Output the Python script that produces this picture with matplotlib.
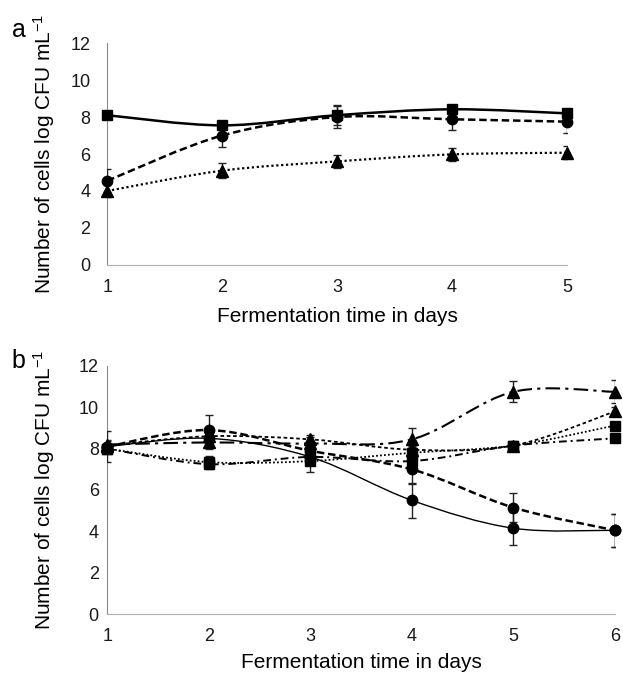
import matplotlib
matplotlib.use("Agg")
import matplotlib.pyplot as plt
from matplotlib.path import Path
from matplotlib.patches import PathPatch

plt.rcParams['font.family'] = ['Liberation Sans', 'DejaVu Sans']
plt.rcParams['mathtext.fontset'] = 'custom'
plt.rcParams['mathtext.rm'] = 'Liberation Sans'
plt.rcParams['mathtext.it'] = 'Liberation Sans'

# Panel a: days 1-5
days_a = [1, 2, 3, 4, 5]
a_square = [8.1, 7.55, 8.1, 8.42, 8.2]
a_square_err = [0.1, 0.1, 0.55, 0.1, 0.1]
a_circle = [4.55, 7.0, 8.0, 7.88, 7.75]
a_circle_err = [0.65, 0.6, 0.6, 0.6, 0.63]
a_triangle = [4.0, 5.1, 5.6, 5.98, 6.07]
a_triangle_err = [0.35, 0.4, 0.35, 0.35, 0.35]

# Panel b: days 1-6
days_b = [1, 2, 3, 4, 5, 6]
b_circle_solid = [8.1, 8.5, 7.6, 5.5, 4.15, 4.05]
b_circle_solid_err = [0.1, 0.2, 0.2, 0.85, 0.8, 0.8]
b_circle_dash = [8.1, 8.9, 7.9, 7.0, 5.15, 4.05]
b_circle_dash_err = [0.75, 0.75, 0.2, 0.7, 0.72, 0.8]
b_tri_dashdot = [8.2, 8.3, 8.25, 8.45, 10.75, 10.75]
b_tri_dashdot_err = [0.2, 0.3, 0.3, 0.55, 0.5, 0.55]
b_tri_dash = [8.15, 8.6, 8.45, 7.95, 8.15, 9.8]
b_tri_dash_err = [0.2, 0.3, 0.2, 0.2, 0.15, 0.2]
b_sq_dot = [8.0, 7.35, 7.4, 7.8, 8.15, 9.12]
b_sq_dot_err = [0.2, 0.3, 0.55, 0.3, 0.15, 0.15]
b_sq_dashdot = [8.0, 7.25, 7.6, 7.4, 8.15, 8.5]
b_sq_dashdot_err = [0.2, 0.25, 0.3, 0.3, 0.15, 0.1]

marker_sizes = {'o': 7.5, 's': 7.5, '^': 8}


def smooth_path(x, y):
    # Excel-style smoothed line: cubic bezier through every point
    n = len(x)
    verts = [(x[0], y[0])]
    codes = [Path.MOVETO]
    for i in range(n - 1):
        p0 = (x[max(i - 1, 0)], y[max(i - 1, 0)])
        p1 = (x[i], y[i])
        p2 = (x[i + 1], y[i + 1])
        p3 = (x[min(i + 2, n - 1)], y[min(i + 2, n - 1)])
        c1 = (p1[0] + (p2[0] - p0[0]) / 6, p1[1] + (p2[1] - p0[1]) / 6)
        c2 = (p2[0] - (p3[0] - p1[0]) / 6, p2[1] - (p3[1] - p1[1]) / 6)
        verts += [c1, c2, p2]
        codes += [Path.CURVE4] * 3
    return Path(verts, codes)


def draw_series(ax, x, y, err, marker, ls, lw):
    ax.add_patch(PathPatch(smooth_path(x, y), fill=False, edgecolor='black',
                           linestyle=ls, linewidth=lw, zorder=2))
    ax.errorbar(x, y, yerr=err, fmt='none', ecolor='#222222', elinewidth=1,
                capsize=3, capthick=1, zorder=3)
    ax.plot(x, y, linestyle='none', marker=marker, color='black',
            markersize=marker_sizes[marker], zorder=4, clip_on=False)


def style_axes(ax, xmax, ypad, ylab_x, xlab_y):
    ax.set_xlim(1, xmax)
    ax.set_ylim(0, 12)
    ax.set_yticks(range(0, 13, 2))
    ax.set_xticks(range(1, xmax + 1))
    for s in ['top', 'right']:
        ax.spines[s].set_visible(False)
    ax.spines['left'].set_color('#8a8a8a')
    ax.spines['bottom'].set_color('#b0b0b0')
    ax.tick_params(length=0, labelsize=13, colors='#1a1a1a')
    ax.tick_params(axis='x', pad=10)
    ax.tick_params(axis='y', pad=ypad)
    ax.set_xlabel('Fermentation time in days', fontsize=15)
    ax.set_ylabel(r'Number of cells log CFU mL$^{-1}$', fontsize=15)
    ax.yaxis.set_label_coords(ylab_x, 0.5)
    ax.xaxis.set_label_coords(0.5, xlab_y)


fig = plt.figure(figsize=(6.23, 6.74), dpi=100)

ax1 = fig.add_axes([0.172, 0.607, 0.738, 0.329])
draw_series(ax1, days_a, a_triangle, a_triangle_err, '^', (0, (1, 1.2)), 1.6)
draw_series(ax1, days_a, a_circle, a_circle_err, 'o', (0, (3, 1.5)), 1.8)
draw_series(ax1, days_a, a_square, a_square_err, 's', '-', 1.8)
style_axes(ax1, 5, 12, -0.109, -0.19)
fig.text(0.019, 0.945, 'a', fontsize=18, va='baseline')

ax2 = fig.add_axes([0.172, 0.089, 0.815, 0.368])
draw_series(ax2, days_b, b_sq_dot, b_sq_dot_err, 's', (0, (1, 1.2)), 1.3)
draw_series(ax2, days_b, b_sq_dashdot, b_sq_dashdot_err, 's', (0, (4, 2, 1, 2)), 1.4)
draw_series(ax2, days_b, b_tri_dash, b_tri_dash_err, '^', (0, (2, 1.5)), 1.3)
draw_series(ax2, days_b, b_tri_dashdot, b_tri_dashdot_err, '^', (0, (7, 2.5, 1.5, 2.5)), 1.5)
draw_series(ax2, days_b, b_circle_dash, b_circle_dash_err, 'o', (0, (3, 1.5)), 1.8)
draw_series(ax2, days_b, b_circle_solid, b_circle_solid_err, 'o', '-', 1.0)
style_axes(ax2, 6, 6, -0.099, -0.158)
fig.text(0.019, 0.454, 'b', fontsize=18, va='baseline')

fig.savefig('out.png', dpi=100)
